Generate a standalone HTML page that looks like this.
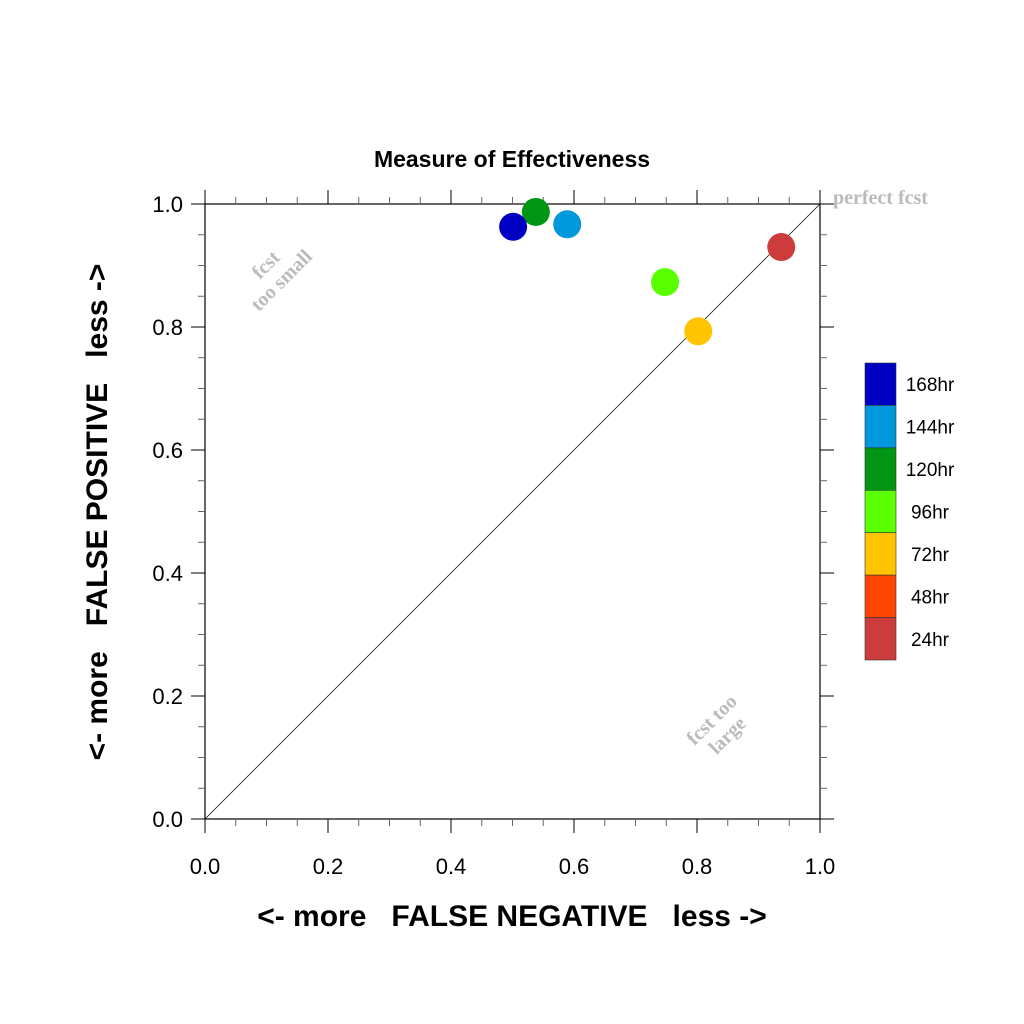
<!DOCTYPE html>
<html><head><meta charset="utf-8"><style>body{margin:0;background:#fff}svg{display:block}</style></head>
<body>
<svg id="chart" width="1024" height="1024" xmlns="http://www.w3.org/2000/svg" font-family="Liberation Sans, sans-serif">
<text x="512" y="167" text-anchor="middle" font-size="23" font-weight="bold">Measure of Effectiveness</text>
<g id="axes"></g>
<g id="marks"></g>
<g id="legend"></g>
<text x="512" y="926" text-anchor="middle" font-size="30" font-weight="bold" xml:space="preserve">&lt;- more   FALSE NEGATIVE   less -&gt;</text>
<text transform="translate(107,512) rotate(-90)" text-anchor="middle" font-size="30" font-weight="bold" xml:space="preserve">&lt;- more   FALSE POSITIVE   less -&gt;</text>
<g font-family="Liberation Serif, serif" font-weight="bold" fill="#bbb" font-size="20">
<text x="833" y="204">perfect fcst</text>
<g transform="translate(276,275) rotate(-45)" text-anchor="middle"><text x="0" y="-8">fcst</text><text x="0" y="14">too small</text></g>
<g transform="translate(722,730) rotate(-45)" text-anchor="middle"><text x="0" y="-8">fcst too</text><text x="0" y="14">large</text></g>
</g>
</svg>
<script>
const xTicks=[0,0.2,0.4,0.6,0.8,1.0];
const tickLabels=["0.0","0.2","0.4","0.6","0.8","1.0"];
const labels=["168hr","144hr","120hr","96hr","72hr","48hr","24hr"];
const colors=["#0000c4","#0098dc","#009614","#5aff00","#ffc300","#ff4600","#cc3c3c"];
const fnVals=[0.501,0.589,0.538,0.748,0.802,null,0.937];
const fpVals=[0.963,0.967,0.987,0.873,0.793,null,0.930];
const drawOrder=[2,0,1,3,4,5,6];
const NS="http://www.w3.org/2000/svg";
const X0=205,X1=820,Y0=819,Y1=204;
const sx=v=>X0+(X1-X0)*v, sy=v=>Y0-(Y0-Y1)*v;
function mk(t,a,p){const e=document.createElementNS(NS,t);for(const k in a)e.setAttribute(k,a[k]);p.appendChild(e);return e;}
const ax=document.getElementById('axes');
mk('rect',{x:X0,y:Y1,width:X1-X0,height:Y0-Y1,fill:'none',stroke:'#000','stroke-width':1.2},ax);
mk('line',{x1:sx(0),y1:sy(0),x2:sx(1),y2:sy(1),stroke:'#000','stroke-width':0.7},ax);
for(let i=0;i<=20;i++){const v=i/20;const maj=i%4===0;const L=maj?14:7;const c=maj?'#000':'#666';
 mk('line',{x1:sx(v),x2:sx(v),y1:Y0,y2:Y0+L,stroke:c},ax);
 mk('line',{x1:sx(v),x2:sx(v),y1:Y1,y2:Y1-L,stroke:c},ax);
 mk('line',{y1:sy(v),y2:sy(v),x1:X0,x2:X0-L,stroke:c},ax);
 mk('line',{y1:sy(v),y2:sy(v),x1:X1,x2:X1+L,stroke:c},ax);}
xTicks.forEach((v,i)=>{
 const t=mk('text',{x:sx(v),y:Y0+55,'text-anchor':'middle','font-size':22},ax);t.textContent=tickLabels[i];
 
 
 const u=mk('text',{x:X0-22,y:sy(v)+8,'text-anchor':'end','font-size':22},ax);u.textContent=tickLabels[i];
 
 });
const mg=document.getElementById('marks');
drawOrder.forEach(i=>{if(fnVals[i]==null)return;
 const c=mk('circle',{cx:sx(fnVals[i]),cy:sy(fpVals[i]),r:14,fill:colors[i]},mg);
 
 });
const lg=document.getElementById('legend');
const h=(660-363)/labels.length;
labels.forEach((l,i)=>{
 const r=mk('rect',{x:865,y:363+i*h,width:31,height:h,fill:colors[i],stroke:'#333','stroke-width':0.6},lg);
 
 
 const t=mk('text',{x:930,y:363+i*h+h/2+7,'text-anchor':'middle','font-size':19},lg);t.textContent=l;
 
 });
</script>
</body></html>
